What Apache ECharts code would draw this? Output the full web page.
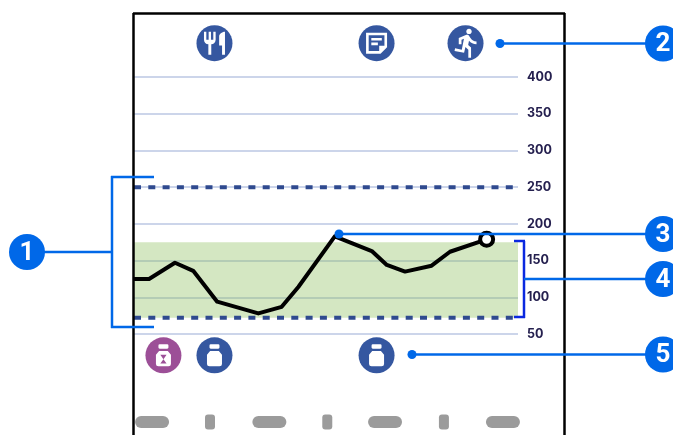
<!DOCTYPE html>
<html>
<head>
	<title>Glucose chart</title>
	<meta charset="utf-8">
	<style type="text/css">
		html, body { margin: 0; padding: 0; background-color: #fff; }
		#main { width: 673px; height: 435px; }
	</style>
	<script src="https://cdn.jsdelivr.net/npm/echarts@6/dist/echarts.min.js"></script>
</head>
<body>
	<div id="main"></div>
	<script type="text/javascript">

	// glucose curve, x in hours of the day
	var glucoseHours = [0, 0.94, 2.56, 3.7, 5.2, 7.77, 9.23, 10.27, 12.55, 14.86, 15.8, 16.94, 18.6, 19.75, 22.04];
	var glucoseValues = [125, 125, 147, 136, 94, 78, 87, 114, 183, 163, 144, 135, 143, 162, 179];

	var yTicks = [50, 100, 150, 200, 250, 300, 350, 400];
	var thresholds = [72, 250];
	var targetRange = [72, 175];

	// event rows above and below the plot
	var topRowValue = 446;
	var bottomRowValue = 21;
	var mealHours = [5.03];
	var noteHours = [15.16];
	var activityHours = [20.72];
	var longDoseHours = [1.84];
	var doseHours = [5.03, 15.16];

	// redacted time labels under the plot
	var pillRowValue = -70;
	var widePillHours = [1.13, 8.46, 15.69, 23.06];
	var narrowPillHours = [4.75, 12.08, 19.37];

	var iconBlue = '#3557a0';
	var iconPurple = '#9c4f97';
	var calloutBlue = '#0068e8';

	var mealPath = 'path://M11 9H9V2H7v7H5V2H3v7c0 2.12 1.66 3.84 3.75 3.97V22h2.5v-9.03C11.34 12.84 13 11.12 13 9V2h-2v7zm5-3v8h2.5v8H21V2c-2.76 0-5 2.24-5 4z';
	var notePath = 'path://M4 4H20V15L15 20H4ZM6 6V18H14V14H18V6ZM8 8H16V10H8ZM8 11.5H13V13.5H8Z';
	var runPath = 'path://M13.49 5.48c1.1 0 2-.9 2-2s-.9-2-2-2-2 .9-2 2 .9 2 2 2zm-3.6 13.9l1-4.4 2.1 2v6h2v-7.5l-2.1-2 .6-3c1.3 1.5 3.3 2.5 5.5 2.5v-2c-1.9 0-3.5-1-4.3-2.4l-1-1.6c-.4-.6-1-1-1.7-1-.3 0-.5.1-.8.1l-5.2 2.2v4.7h2v-3.4l1.8-.7-1.6 8.1-4.9-1-.4 2 7 1.4z';
	var bottlePath = 'path://M9 2H15A1 1 0 0 1 16 3V5A1 1 0 0 1 15 6H9A1 1 0 0 1 8 5V3A1 1 0 0 1 9 2ZM8.5 8H15.5L18 11.5V20A2 2 0 0 1 16 22H8A2 2 0 0 1 6 20V11.5Z';
	var timedBottlePath = bottlePath + 'M9.5 11.5L12 15.5L14.5 11.5ZM9.5 19.5H14.5L12 15.5Z';
	var widePillPath = 'path://M6 0H28A6 6 0 0 1 28 12H6A6 6 0 0 1 6 0Z';
	var narrowPillPath = 'path://M3 0H7A3 3 0 0 1 10 3V12A3 3 0 0 1 7 15H3A3 3 0 0 1 0 12V3A3 3 0 0 1 3 0Z';

	function points(hours, value) {
		return hours.map(function (h) { return [h, value]; });
	}

	function markSeries(hours, value, symbol, size, color) {
		return {
			type: 'scatter',
			data: points(hours, value),
			symbol: symbol,
			symbolSize: size,
			symbolKeepAspect: false,
			clip: false,
			silent: true,
			z: 5,
			itemStyle: { color: color, opacity: 1 }
		};
	}

	function dashedSeries(value) {
		return {
			type: 'line',
			data: [[0, value], [24, value]],
			symbol: 'none',
			silent: true,
			z: 3,
			lineStyle: { color: '#2f4a8f', width: 4, type: [7, 7.3] }
		};
	}

	function line(x1, y1, x2, y2, color) {
		return {
			type: 'line',
			z: 100,
			shape: { x1: x1, y1: y1, x2: x2, y2: y2 },
			style: { stroke: color || calloutBlue, lineWidth: 2.5 }
		};
	}

	function dot(x, y) {
		return { type: 'circle', z: 101, shape: { cx: x, cy: y, r: 4.5 }, style: { fill: calloutBlue } };
	}

	function badge(x, y, label) {
		return {
			type: 'group',
			z: 102,
			children: [
				{ type: 'circle', z: 102, shape: { cx: x, cy: y, r: 18 }, style: { fill: calloutBlue } },
				{
					type: 'text', z: 103, x: x, y: y + 1,
					style: { text: label, fill: '#fff', font: 'bold 26px Roboto', align: 'center', verticalAlign: 'middle' }
				}
			]
		};
	}

	var glucoseData = glucoseHours.map(function (h, i) {
		var item = { value: [h, glucoseValues[i]], symbol: 'none' };
		if (i === glucoseHours.length - 1) {
			item.symbol = 'circle';
			item.symbolSize = 13;
			item.itemStyle = { color: '#fff', borderColor: '#000', borderWidth: 4, opacity: 1 };
		}
		return item;
	});

	var option = {
		animation: false,
		backgroundColor: '#fff',
		grid: { left: 134, right: 155, top: 77, bottom: 101 },
		xAxis: { type: 'value', min: 0, max: 24, show: false },
		yAxis: {
			type: 'value',
			position: 'right',
			min: yTicks[0],
			max: yTicks[yTicks.length - 1],
			interval: 50,
			axisLine: { show: false },
			axisTick: { show: false },
			axisLabel: { margin: 9, padding: [2, 0, 0, 0], color: '#25204f', fontFamily: 'Inter', fontWeight: 'bold', fontSize: 12.5 },
			splitLine: { lineStyle: { color: '#ccd5ea', width: 2 } }
		},
		series: [
			{
				type: 'line',
				data: glucoseData,
				showSymbol: true,
				silent: true,
				z: 4,
				lineStyle: { color: '#000', width: 4, join: 'round' },
				markArea: {
					silent: true,
					itemStyle: { color: 'rgba(139, 190, 90, 0.37)' },
					data: [[{ xAxis: 0, yAxis: targetRange[0] }, { xAxis: 24, yAxis: targetRange[1] }]]
				}
			},
			dashedSeries(thresholds[0]),
			dashedSeries(thresholds[1]),
			markSeries(mealHours.concat(noteHours, activityHours), topRowValue, 'circle', 36, iconBlue),
			markSeries(mealHours, topRowValue, mealPath, [21, 23], '#fff'),
			markSeries(noteHours, topRowValue, notePath, [21, 21], '#fff'),
			markSeries(activityHours, topRowValue, runPath, [22, 29], '#fff'),
			markSeries(longDoseHours, bottomRowValue, 'circle', 36, iconPurple),
			markSeries(doseHours, bottomRowValue, 'circle', 36, iconBlue),
			markSeries(longDoseHours, bottomRowValue, timedBottlePath, [15, 22], '#fff'),
			markSeries(doseHours, bottomRowValue, bottlePath, [15, 22], '#fff'),
			markSeries(widePillHours, pillRowValue, widePillPath, [34, 12], '#9b9b9b'),
			markSeries(narrowPillHours, pillRowValue, narrowPillPath, [10, 15], '#9b9b9b')
		],
		graphic: {
			elements: [
				// phone frame
				line(133.5, 13, 133.5, 435, '#000'),
				line(133, 13.5, 565, 13.5, '#000'),
				line(564.5, 13, 564.5, 435, '#000'),
				// callout 1
				line(112, 176, 112, 328),
				line(111, 177, 154, 177),
				line(111, 327, 154, 327),
				line(27, 252, 112, 252),
				badge(27, 252, '1'),
				// callout 2
				line(500, 43.5, 663, 43.5),
				dot(500, 43.5),
				badge(663, 43.5, '2'),
				// callout 3
				line(339, 234, 663, 234),
				dot(339, 234),
				badge(663, 234, '3'),
				// callout 4
				line(524, 241, 524, 318, '#0a28e0'),
				line(514, 241, 525, 241, '#0a28e0'),
				line(514, 317, 525, 317, '#0a28e0'),
				line(524, 279, 663, 279),
				badge(663, 279, '4'),
				// callout 5
				line(412, 354.5, 663, 354.5),
				dot(412, 354.5),
				badge(663, 354.5, '5')
			]
		}
	};

	var myChart = echarts.init(document.getElementById('main'));
	myChart.setOption(option);

	</script>
</body>
</html>
